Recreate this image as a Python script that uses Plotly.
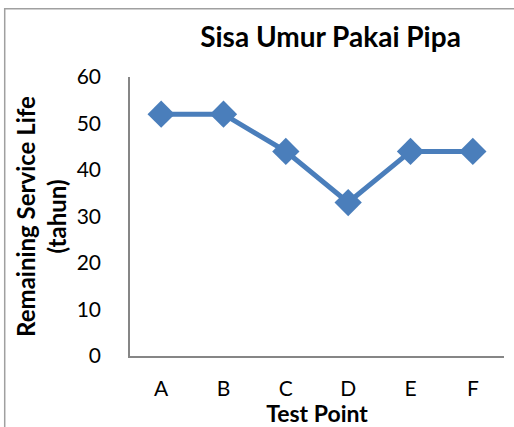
import plotly.graph_objects as go

# data
test_points = ["A", "B", "C", "D", "E", "F"]
service_life = [52, 52, 44, 33, 44, 44]
y_ticks = [0, 10, 20, 30, 40, 50, 60]

_LINE = "#4a7ebb"
_AXIS = "#868686"
_FONT = "Lato, Calibri, sans-serif"

fig = go.Figure()
fig.add_trace(go.Scatter(
    x=test_points, y=service_life, mode="lines+markers",
    line=dict(color=_LINE, width=5),
    marker=dict(symbol="diamond", size=21, color=_LINE),
    showlegend=False,
))

fig.update_layout(
    width=514, height=427,
    margin=dict(l=130, r=10, t=77, b=71),
    plot_bgcolor="white", paper_bgcolor="white",
    font=dict(family=_FONT, size=21, color="black"),
    title=dict(text="<b>Sisa Umur Pakai Pipa</b>", font=dict(size=28),
               x=0.643, xanchor="center", y=0.912, yanchor="middle"),
    # chart frame (cut off on right and bottom like the screenshot)
    shapes=[dict(type="rect", xref="paper", yref="paper",
                 x0=-0.335, x1=1.3, y0=-0.5, y1=1.245,
                 line=dict(color="#a0a0a0", width=1.5), layer="below")],
)
fig.update_xaxes(
    type="category", range=[-0.5, 5.5],
    showline=True, linecolor=_AXIS, linewidth=1.5, showgrid=False,
    ticklabelstandoff=13,
    title=dict(text="<b>Test Point</b>", font=dict(size=23), standoff=1),
)
fig.update_yaxes(
    range=[0, 60], tickvals=y_ticks,
    showline=True, linecolor=_AXIS, linewidth=1.5, showgrid=False,
    zeroline=False, ticklabelstandoff=23,
    title=dict(text="<b>Remaining Service Life<br>(tahun)</b>",
               font=dict(size=24), standoff=3),
)

# page body has a default 8px margin; drop it so the figure sits at 0,0
fig.write_html("out.html", config={"displayModeBar": False},
               post_script="document.body.style.margin='0';")
